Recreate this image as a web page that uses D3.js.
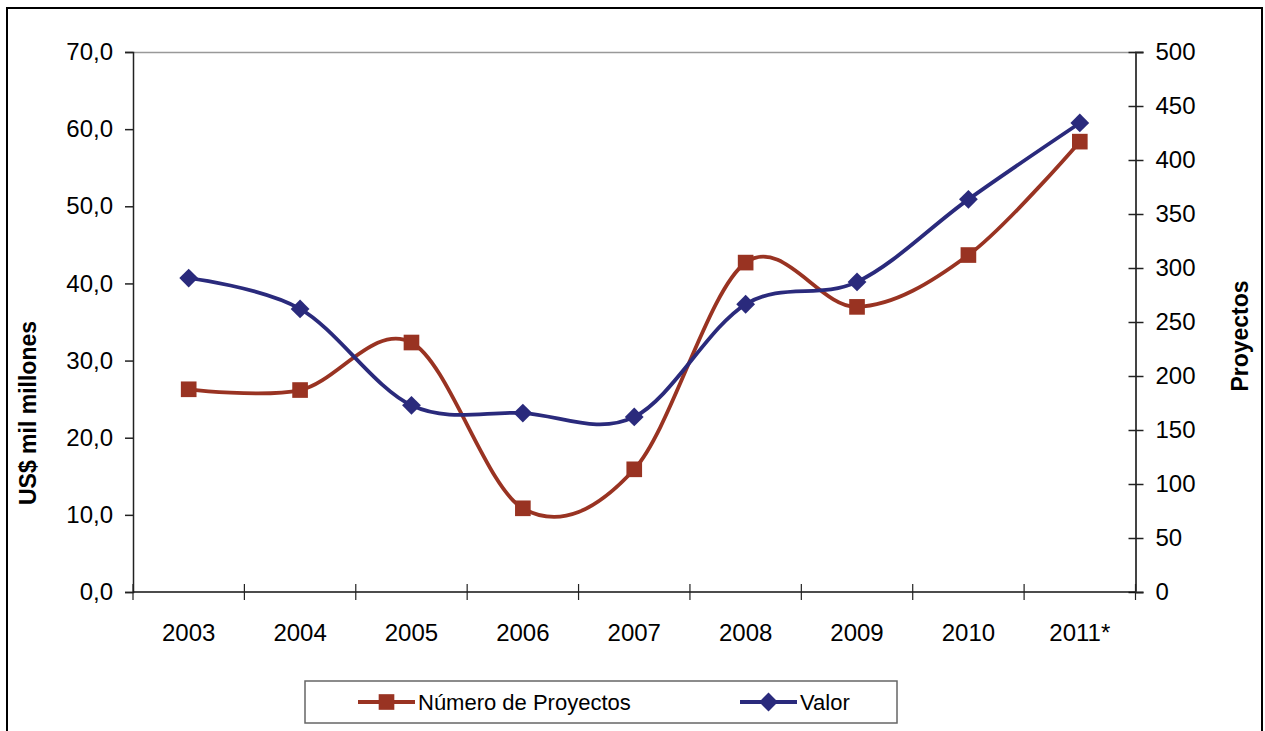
<!DOCTYPE html>
<html>
<head>
<meta charset="utf-8">
<script src="https://cdn.jsdelivr.net/npm/d3@7"></script>
<style>
  html, body { margin: 0; padding: 0; background: #fff; }
  svg { display: block; font-family: "Liberation Sans", Arial, sans-serif; }
</style>
</head>
<body>
<svg id="chart" width="1265" height="731"></svg>
<script>
// data
const years     = ['2003', '2004', '2005', '2006', '2007', '2008', '2009', '2010', '2011*'];
const valor     = [40.7, 36.7, 24.2, 23.2, 22.7, 37.3, 40.2, 50.9, 60.8];   // US$ mil millones (left)
const proyectos = [187.7, 187, 231, 77.5, 113.6, 305, 264, 312, 417];      // número (right)
const leftTicks  = [0, 10, 20, 30, 40, 50, 60, 70];
const rightTicks = [0, 50, 100, 150, 200, 250, 300, 350, 400, 450, 500];

const RED = '#993322', BLUE = '#2a2a7c';
const fmtL = d => d3.format('.1f')(d).replace('.', ',');

const svg = d3.select('#chart');

// outer frame
svg.append('rect')
  .attr('x', 7).attr('y', 8).attr('width', 1255).attr('height', 740)
  .attr('fill', 'none').attr('stroke', '#000').attr('stroke-width', 2);

const L = 133, R = 1135.5, T = 52, B = 592;

const x = d3.scaleBand().domain(years).range([L, R]).padding(0);
const cx = d => x(d) + x.bandwidth() / 2;
const yL = d3.scaleLinear().domain([0, 70]).range([B, T]);
const yR = d3.scaleLinear().domain([0, 500]).range([B, T]);

// plot area border (top, light gray)
svg.append('line')
  .attr('x1', L).attr('x2', R).attr('y1', T + .5).attr('y2', T + .5)
  .attr('stroke', '#999').attr('stroke-width', 1.5);

// left axis
const gL = svg.append('g').attr('transform', `translate(${L},0)`)
  .call(d3.axisLeft(yL).tickValues(leftTicks).tickFormat(fmtL).tickSize(8).tickPadding(12));
gL.select('.domain').attr('stroke', '#222').attr('stroke-width', 1.5);
gL.selectAll('.tick line').attr('stroke', '#222').attr('stroke-width', 1.5);
gL.selectAll('.tick text').attr('font-size', 24).attr('fill', '#000')
  .attr('font-family', '"Liberation Sans", Arial, sans-serif');

// right axis (crossing ticks)
const gR = svg.append('g').attr('transform', `translate(${R},0)`)
  .call(d3.axisRight(yR).tickValues(rightTicks).tickSize(8).tickPadding(12));
gR.select('.domain').attr('stroke', '#444').attr('stroke-width', 2);
gR.selectAll('.tick line').attr('x1', -7).attr('stroke', '#222').attr('stroke-width', 1.5);
gR.selectAll('.tick text').attr('font-size', 24).attr('fill', '#000')
  .attr('font-family', '"Liberation Sans", Arial, sans-serif');

// bottom axis: tick marks at band boundaries, labels centered in bands
const bounds = years.map(d => x(d)).concat([R]);
svg.append('line')
  .attr('x1', L).attr('x2', R).attr('y1', B).attr('y2', B)
  .attr('stroke', '#111').attr('stroke-width', 1.5);
svg.append('g').selectAll('line').data(bounds).join('line')
  .attr('x1', d => d).attr('x2', d => d).attr('y1', B - 8).attr('y2', B + 8)
  .attr('stroke', '#222').attr('stroke-width', 1.2);
svg.append('g').selectAll('text').data(years).join('text')
  .attr('x', d => cx(d)).attr('y', 641)
  .attr('text-anchor', 'middle').attr('font-size', 24).attr('fill', '#000')
  .text(d => d);

// axis titles
svg.append('text')
  .attr('transform', 'translate(36,413) rotate(-90)')
  .attr('text-anchor', 'middle').attr('font-size', 23).attr('font-weight', 'bold')
  .text('US$ mil millones');
svg.append('text')
  .attr('transform', 'translate(1248,336) rotate(-90)')
  .attr('text-anchor', 'middle').attr('font-size', 23).attr('font-weight', 'bold')
  .text('Proyectos');

// series
const curve = d3.curveCardinal.tension(0);
const lineR = d3.line().x((d, i) => cx(years[i])).y(d => yR(d)).curve(curve);
const lineL = d3.line().x((d, i) => cx(years[i])).y(d => yL(d)).curve(curve);

svg.append('path').datum(proyectos).attr('d', lineR)
  .attr('fill', 'none').attr('stroke', RED).attr('stroke-width', 3.8);
svg.append('path').datum(valor).attr('d', lineL)
  .attr('fill', 'none').attr('stroke', BLUE).attr('stroke-width', 3.8);

const sq = d3.symbol().type(d3.symbolSquare).size(245);
const dm = d3.symbol().type(d3.symbolDiamond2).size(225);

svg.append('g').selectAll('path').data(proyectos).join('path')
  .attr('d', sq).attr('fill', RED)
  .attr('transform', (d, i) => `translate(${cx(years[i])},${yR(d)})`);
svg.append('g').selectAll('path').data(valor).join('path')
  .attr('d', dm).attr('fill', BLUE)
  .attr('transform', (d, i) => `translate(${cx(years[i])},${yL(d)})`);

// legend
const lg = svg.append('g');
lg.append('rect').attr('x', 305).attr('y', 681).attr('width', 592).attr('height', 42)
  .attr('fill', '#fff').attr('stroke', '#666').attr('stroke-width', 1.5);
const legendItems = [
  { name: 'Número de Proyectos', color: RED, sym: sq, x0: 358 },
  { name: 'Valor', color: BLUE, sym: dm, x0: 740 }
];
legendItems.forEach(it => {
  lg.append('line').attr('x1', it.x0).attr('x2', it.x0 + 57).attr('y1', 702).attr('y2', 702)
    .attr('stroke', it.color).attr('stroke-width', 4);
  lg.append('path').attr('d', it.sym).attr('fill', it.color)
    .attr('transform', `translate(${it.x0 + 28.5},702)`);
  lg.append('text').attr('x', it.x0 + 60).attr('y', 710)
    .attr('font-size', 22).attr('fill', '#000').text(it.name);
});
</script>
</body>
</html>
